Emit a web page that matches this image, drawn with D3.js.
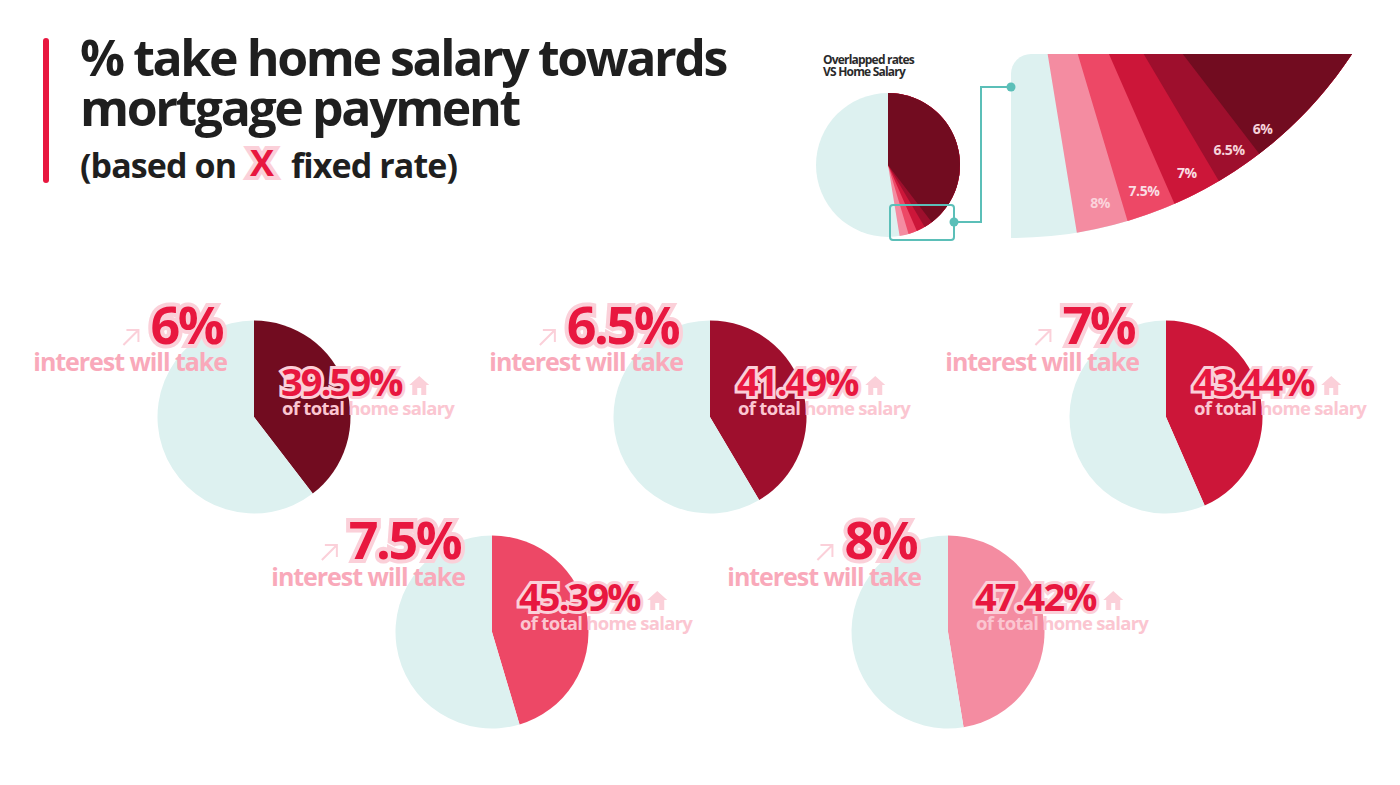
<!DOCTYPE html>
<html>
<head>
<meta charset="utf-8">
<script src="https://cdn.jsdelivr.net/npm/d3@7"></script>
<style>
  html, body { margin: 0; padding: 0; background: #fff; }
  text { font-family: "Open Sans", sans-serif; font-weight: 700; }
</style>
</head>
<body>
<div id="chart"></div>
<script>
// chart values
const rates = ["6%", "6.5%", "7%", "7.5%", "8%"];
const shares = [39.59, 41.49, 43.44, 45.39, 47.42];
const rateColors = ["#720C20", "#9E0F2D", "#CC1639", "#ED4866", "#F48CA1"];
const overlapLabelColors = ["#F6D3DA", "#F6D3DA", "#FADDE3", "#FADDE3", "#FBD3DB"];

const titleLines = ["% take home salary towards", "mortgage payment"];

const width = 1400, height = 785;
const restColor = "#DDF1F0", teal = "#5BBFB8", red = "#E8173F";
const halo = "#FBD0D9", faded = "#F9A9BA", fadedLight = "#FBC6D1";

const svg = d3.select("#chart").append("svg")
    .attr("width", width)
    .attr("height", height);

const pie = d3.pie().sort(null).value(d => d);
const angleOf = d3.scaleLinear().domain([0, 100]).range([0, 2 * Math.PI]);
const colorOf = d3.scaleOrdinal().domain(rates).range(rateColors);

// Title block
svg.append("rect")
    .attr("x", 43).attr("y", 38)
    .attr("width", 6).attr("height", 145)
    .attr("rx", 3)
    .attr("fill", red);

svg.selectAll(".title")
    .data(titleLines)
    .enter()
    .append("text")
    .attr("class", "title")
    .attr("x", 80)
    .attr("y", (d, i) => 76 + i * 50)
    .attr("font-size", 50)
    .attr("font-weight", 800)
    .attr("letter-spacing", -2.4)
    .attr("fill", "#1F1F1F")
    .text(d => d);

svg.append("text").attr("x", 80).attr("y", 178)
    .attr("font-size", 34).attr("letter-spacing", -0.9).attr("fill", "#1F1F1F")
    .text("(based on");
outlined(svg.append("text").attr("x", 262).attr("y", 176)
    .attr("font-size", 36).attr("text-anchor", "middle").text("X"), 8);
svg.append("text").attr("x", 291).attr("y", 178)
    .attr("font-size", 34).attr("letter-spacing", -0.9).attr("fill", "#1F1F1F")
    .text("fixed rate)");

// Big percentages: red with a pink halo behind
function outlined(sel, w) {
    return sel.attr("fill", red)
        .attr("stroke", halo)
        .attr("stroke-width", w)
        .attr("stroke-linejoin", "miter")
        .attr("paint-order", "stroke");
}

// Overlapped pie, top right
function overlapLayers(g, cx, cy, r) {
    g.append("circle").attr("cx", cx).attr("cy", cy).attr("r", r).attr("fill", restColor);
    const arc = d3.arc().innerRadius(0).outerRadius(r);
    // largest share first so every smaller one stays visible on top
    g.selectAll("path")
        .data(shares.map((s, i) => ({ s, rate: rates[i] })).reverse())
        .enter()
        .append("path")
        .attr("transform", `translate(${cx},${cy})`)
        .attr("fill", d => colorOf(d.rate))
        .attr("d", d => arc({ startAngle: 0, endAngle: angleOf(d.s) }));
}

overlapLayers(svg.append("g"), 888, 165, 72);

const zoomCx = 1011, zoomCy = -170, zoomR = 408;
svg.append("clipPath").attr("id", "fan-clip")
    .append("rect")
    .attr("x", zoomCx).attr("y", 54)
    .attr("width", 400).attr("height", 300)
    .attr("rx", 20);
overlapLayers(svg.append("g").attr("clip-path", "url(#fan-clip)"), zoomCx, zoomCy, zoomR);

// labels sit just inside each slice's end edge
const fanLabelBack = [0.045, 0.064, 0.061, 0.063, 0.072];
const fanLabelRadius = [391, 387, 386, 385, 384];
svg.selectAll(".fan-label")
    .data(rates)
    .enter()
    .append("text")
    .attr("class", "fan-label")
    .attr("transform", (d, i) => {
        const a = angleOf(shares[i]) - fanLabelBack[i];
        const r = fanLabelRadius[i];
        return `translate(${zoomCx + r * Math.sin(a)},${zoomCy - r * Math.cos(a)})`;
    })
    .attr("dy", "0.35em")
    .attr("text-anchor", "middle")
    .attr("font-size", 14)
    .attr("font-weight", 600)
    .attr("letter-spacing", -0.4)
    .attr("fill", (d, i) => overlapLabelColors[i])
    .text(d => d);

svg.selectAll(".overlap-title")
    .data(["Overlapped rates", "VS Home Salary"])
    .enter()
    .append("text")
    .attr("class", "overlap-title")
    .attr("x", 823)
    .attr("y", (d, i) => 64 + i * 12)
    .attr("font-size", 12)
    .attr("letter-spacing", -0.8)
    .attr("fill", "#2A2A2A")
    .text(d => d);

// Callout from the small pie to the zoomed fan
svg.append("rect")
    .attr("x", 890).attr("y", 205)
    .attr("width", 64).attr("height", 35)
    .attr("rx", 3)
    .attr("fill", "none").attr("stroke", teal).attr("stroke-width", 2);
svg.append("path")
    .attr("d", d3.line()([[954, 222], [981, 222], [981, 87], [1011, 87]]))
    .attr("fill", "none").attr("stroke", teal).attr("stroke-width", 2);
svg.selectAll(".dot")
    .data([[954, 222], [1011, 87]])
    .enter()
    .append("circle")
    .attr("class", "dot")
    .attr("cx", d => d[0]).attr("cy", d => d[1])
    .attr("r", 4.5)
    .attr("fill", teal);

// One pie per rate
const pieCenters = [[254, 417], [710, 417], [1166, 417], [492, 632], [948, 632]];
const pieR = 96.5;
const arc = d3.arc().innerRadius(0).outerRadius(pieR);

rates.forEach((rate, i) => {
    const g = svg.append("g")
        .attr("transform", `translate(${pieCenters[i][0]},${pieCenters[i][1]})`);

    g.selectAll("path")
        .data(pie([shares[i], 100 - shares[i]]))
        .enter()
        .append("path")
        .attr("d", arc)
        .attr("fill", (d, j) => j === 0 ? colorOf(rate) : restColor);

    const big = outlined(g.append("text")
        .attr("x", -32).attr("y", -73)
        .attr("text-anchor", "end")
        .attr("font-size", 52)
        .attr("letter-spacing", -2.5)
        .text(rate), 8);

    g.append("text")
        .attr("x", -27).attr("y", -46)
        .attr("text-anchor", "end")
        .attr("font-size", 25)
        .attr("letter-spacing", -1.05)
        .attr("fill", faded)
        .text("interest will take");

    const pct = outlined(g.append("text")
        .attr("x", 27).attr("y", -21)
        .attr("font-size", 38)
        .attr("letter-spacing", -1.9)
        .text(shares[i] + "%"), 6);

    g.append("text")
        .attr("x", 28).attr("y", -2)
        .attr("font-size", 18.5)
        .attr("letter-spacing", -0.7)
        .attr("fill", fadedLight)
        .text("of total home salary");

    // Arrow sits left of the rate, house right of the share
    const bigLeft = big.node().getBBox().x;
    g.append("path")
        .attr("transform", `translate(${bigLeft - 28},-88)`)
        .attr("d", "M1 16 L15 2 M4 1 H16 V13")
        .attr("fill", "none")
        .attr("stroke", halo)
        .attr("stroke-width", 2);

    const b = pct.node().getBBox();
    g.append("path")
        .attr("transform", `translate(${b.x + b.width + 6},-41)`)
        .attr("d", "M10 0 L20 9 H17 V19 H12 V12 H8 V19 H3 V9 H0 Z")
        .attr("fill", halo);
});
</script>
</body>
</html>
